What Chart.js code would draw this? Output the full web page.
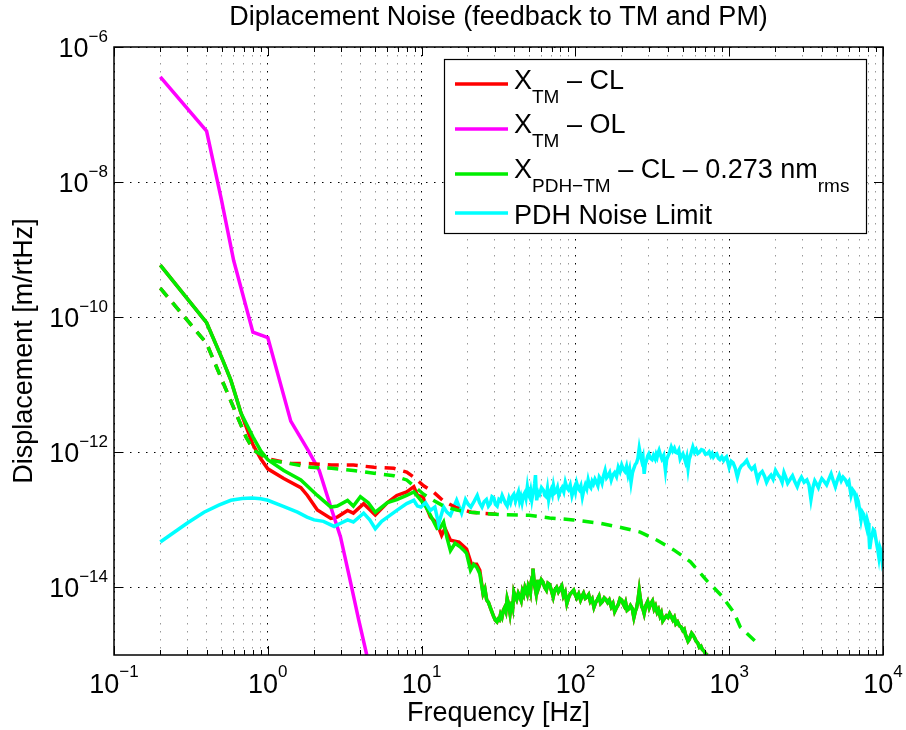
<!DOCTYPE html>
<html>
<head>
<meta charset="utf-8">
<script src="https://cdn.jsdelivr.net/npm/chart.js@4.4.1/dist/chart.umd.min.js"></script>
<style>
  html, body { margin: 0; padding: 0; background: #fff; }
</style>
</head>
<body>
<canvas id="noiseChart" width="906" height="730"></canvas>
<script>
// X_TM - CL (red, solid), below ~25 Hz
const tmClFreq = [0.2, 0.4, 0.51, 0.575, 0.67, 0.8, 0.9, 1.0, 1.27, 1.64, 1.81, 2.1, 2.57, 2.83, 3.3, 3.6, 4.2, 5.0, 6.0, 6.9, 8.0, 8.9, 9.4, 10.2, 10.8, 11.4, 12.6, 13.5, 14.2, 15.4, 17.5, 19.6, 21.1, 22.8, 23.9];
const tmClVal = [5.9e-10, 8.3e-11, 2.3e-11, 1.17e-11, 3.8e-12, 1.3e-12, 8.0e-13, 5.7e-13, 4.1e-13, 3.0e-13, 2.3e-13, 1.4e-13, 1.05e-13, 1.1e-13, 1.38e-13, 1.26e-13, 1.74e-13, 1.18e-13, 1.8e-13, 2.3e-13, 2.6e-13, 3.1e-13, 2.3e-13, 2.2e-13, 1.5e-13, 1.1e-13, 8.9e-14, 5.9e-14, 7.5e-14, 5.0e-14, 4.7e-14, 3.7e-14, 2.2e-14, 2.2e-14, 1.8e-14];

// X_PDH-TM - CL (green, solid), below ~25 Hz
const pdhClFreq = [0.2, 0.4, 0.51, 0.575, 0.67, 0.8, 0.9, 1.0, 1.27, 1.64, 2.1, 2.57, 2.83, 3.3, 3.6, 4.0, 4.5, 5.0, 6.0, 6.9, 8.0, 8.9, 9.9, 10.6, 11.4, 12.6, 13.3, 13.9, 14.6, 15.4, 16.5, 17.8, 18.7, 19.6, 20.8, 21.8, 22.8, 23.9];
const pdhClVal = [5.9e-10, 8.3e-11, 2.3e-11, 1.17e-11, 3.8e-12, 1.7e-12, 1.05e-12, 7.8e-13, 5.4e-13, 3.9e-13, 2.3e-13, 1.55e-13, 1.6e-13, 1.94e-13, 1.6e-13, 2.2e-13, 1.8e-13, 1.3e-13, 1.8e-13, 2.0e-13, 2.3e-13, 2.6e-13, 1.94e-13, 1.6e-13, 1.18e-13, 7.5e-14, 7.8e-14, 9.3e-14, 5.5e-14, 3.5e-14, 4.5e-14, 4.0e-14, 3.6e-14, 3.2e-14, 1.8e-14, 2.2e-14, 2.0e-14, 1.6e-14];

// above ~25 Hz both closed-loop curves lie on top of each other
const clHighFreq = [25.1, 25.8, 26.5, 27.2, 27.9, 28.6, 29.3, 30.1, 30.9, 31.4, 32.0, 32.6, 33.3, 34.0, 34.6, 35.3, 36, 36.8, 37.6, 38.2, 38.7, 39.2, 39.8, 40.6, 41.5, 42.5, 43.6, 44.4, 45.2, 46.1, 47, 47.8, 48.6, 49.4, 50.3, 51.0, 51.6, 52.3, 53, 53.6, 54.2, 54.9, 55.6, 56.3, 57, 57.7, 58.5, 60, 61.5, 63.2, 64.8, 66.3, 68, 69.8, 71.7, 73.5, 75.5, 77.5, 79.4, 81.5, 83.6, 85.8, 88, 90.2, 92.5, 95, 97.5, 99.8, 102, 105, 108, 110.5, 113, 116, 119, 122, 125, 128.5, 132, 135.5, 139, 142.5, 146, 150, 154, 158, 162, 166, 171, 175.5, 180, 185, 190, 195, 200, 204, 208, 212, 217, 222, 228, 234, 240, 245, 250, 255, 260, 265, 270, 275, 280, 287, 295, 302, 310, 317, 325, 332, 340, 347, 355, 362, 370, 380, 390, 400, 410, 420, 430, 440, 450, 462, 475, 487, 500, 510, 520, 530, 540, 550, 560, 570, 580, 595, 610, 625, 640, 655, 670, 685, 700, 710, 720];
const clHighVal = [8.1e-15, 9.5e-15, 6.5e-15, 6.0e-15, 5.1e-15, 4.4e-15, 3.8e-15, 3.3e-15, 3.1e-15, 3.4e-15, 3.3e-15, 4.0e-15, 3.6e-15, 4.6e-15, 5.0e-15, 4.4e-15, 6.8e-15, 5.6e-15, 4.1e-15, 5.4e-15, 6.2e-15, 5.3e-15, 8.5e-15, 7.4e-15, 6.6e-15, 8.2e-15, 7.2e-15, 6.4e-15, 8.8e-15, 7.8e-15, 1.0e-14, 9.0e-15, 8.0e-15, 1.05e-14, 9.5e-15, 8.4e-15, 1.2e-14, 1.4e-14, 1.9e-14, 1.4e-14, 1.1e-14, 9.5e-15, 8.1e-15, 1.05e-14, 1.3e-14, 1.0e-14, 1.1e-14, 1.3e-14, 1.2e-14, 1.0e-14, 9.1e-15, 1.15e-14, 1.1e-14, 9.0e-15, 7.2e-15, 9.2e-15, 1.0e-14, 8.6e-15, 9.5e-15, 1.05e-14, 7.5e-15, 8.5e-15, 5.8e-15, 7.0e-15, 8.0e-15, 8.5e-15, 9.1e-15, 7.8e-15, 7.0e-15, 8.0e-15, 6.5e-15, 7.4e-15, 8.2e-15, 6.9e-15, 7.2e-15, 7.8e-15, 6.2e-15, 6.8e-15, 5.1e-15, 6.0e-15, 6.6e-15, 7.4e-15, 5.8e-15, 6.2e-15, 7.0e-15, 6.6e-15, 6.0e-15, 6.5e-15, 5.2e-15, 5.8e-15, 4.4e-15, 5.0e-15, 5.6e-15, 6.8e-15, 6.5e-15, 5.8e-15, 5.3e-15, 6.0e-15, 4.6e-15, 4.8e-15, 5.4e-15, 4.9e-15, 3.6e-15, 4.4e-15, 5.0e-15, 6.4e-15, 9.1e-15, 6.6e-15, 5.2e-15, 4.8e-15, 4.1e-15, 5.4e-15, 6.2e-15, 5.0e-15, 5.8e-15, 6.3e-15, 4.8e-15, 5.3e-15, 4.3e-15, 4.7e-15, 3.8e-15, 4.2e-15, 3.2e-15, 3.5e-15, 3.8e-15, 3.6e-15, 4.1e-15, 3.7e-15, 3.3e-15, 3.6e-15, 2.9e-15, 3.1e-15, 2.7e-15, 2.6e-15, 2.3e-15, 2.4e-15, 2.0e-15, 1.8e-15, 1.6e-15, 1.7e-15, 1.9e-15, 2.1e-15, 2.0e-15, 1.8e-15, 1.6e-15, 1.5e-15, 1.3e-15, 1.35e-15, 1.2e-15, 1.15e-15, 1.05e-15, 1.03e-15, 1.0e-15];

// X_TM - OL (magenta)
const tmOlFreq = [0.2, 0.4, 0.5, 0.6, 0.8, 1.0, 1.41, 1.83, 2.16, 2.58, 2.97, 3.4, 3.9, 4.4];
const tmOlVal = [3.6e-7, 5.7e-8, 5.4e-9, 6.9e-10, 6.0e-11, 5.0e-11, 2.9e-12, 1.07e-12, 5.4e-13, 1.5e-13, 5.6e-14, 1.4e-14, 3.3e-15, 1.0e-15];

// dashed curves (red: TM, green: PDH-TM); above ~30 Hz the red one is hidden under the green one
const tmDashFreq = [0.2, 0.4, 0.72, 0.81, 1.0, 1.4, 1.9, 2.6, 3.6, 4.9, 6.6, 8.0, 8.9, 10.3, 11.9, 13.9, 17, 21, 25.1, 32.7];
const tmDashVal = [2.7e-10, 4.1e-11, 1.7e-12, 1.07e-12, 8.0e-13, 6.9e-13, 6.8e-13, 6.5e-13, 6.5e-13, 6.0e-13, 5.8e-13, 5.1e-13, 4.3e-13, 3.2e-13, 2.6e-13, 1.9e-13, 1.5e-13, 1.3e-13, 1.25e-13, 1.2e-13];
const pdhDashFreq = [0.2, 0.4, 0.72, 0.81, 1.05, 1.4, 1.9, 2.6, 3.6, 4.9, 6.6, 8.0, 8.9, 10.3, 11.9, 13.9, 16.9, 20.8, 25.1, 32.7, 50, 68, 97, 146, 204, 264, 340, 436, 560, 720, 890, 1070, 1180, 1570];
const pdhDashVal = [2.7e-10, 4.1e-11, 1.7e-12, 1.07e-12, 7.6e-13, 6.8e-13, 6.0e-13, 5.8e-13, 5.4e-13, 4.9e-13, 4.5e-13, 3.9e-13, 3.2e-13, 2.4e-13, 1.95e-13, 1.6e-13, 1.4e-13, 1.3e-13, 1.25e-13, 1.2e-13, 1.17e-13, 1.07e-13, 1.0e-13, 8.9e-14, 7.6e-14, 6.6e-14, 5.0e-14, 3.6e-14, 2.4e-14, 1.24e-14, 7.6e-15, 4.3e-15, 2.6e-15, 1.4e-15];

// PDH noise limit (cyan)
const pdhLimitFreq = [0.2, 0.3, 0.385, 0.48, 0.575, 0.68, 0.79, 0.9, 1.0, 1.25, 1.56, 1.8, 2.0, 2.3, 2.7, 3.0, 3.3, 3.6, 4.2, 4.6, 5.0, 5.5, 6.0, 6.9, 8.0, 8.9, 9.4, 9.9, 10.6, 11.4, 12.2, 12.9, 13.9, 14.6, 15.4, 16.9, 18.2,
  19.3, 20.1, 20.9, 22, 23, 23.8, 24.7, 25.5, 26.4, 27.2, 28, 28.7, 29.5, 30.2, 31, 31.8, 32.6, 33.4, 34.3, 35.1, 36, 37, 37.9, 38.8, 39.8, 40.8, 41.8, 42.6, 43.4, 44.2, 45, 45.9, 46.8, 47.7, 48.7, 49.5, 50.3, 51.2, 52.1, 52.8, 53.5, 54.3, 55, 55.5, 56, 57.2, 58.5, 60.2, 62, 63.2, 64.5, 65.8, 67, 68.2, 69.5, 70.8, 72, 73.5, 75, 76.5, 78, 80, 82, 84, 86, 88, 90, 92.5, 95, 96.8, 98.5, 100,
  102, 104, 106, 108.5, 111, 113.5, 116, 118.5, 121, 123.5, 126, 128.5, 131, 134, 137, 140, 143, 146, 149, 152, 156, 159.5, 163, 167, 171, 175, 180, 185, 190, 195, 200, 205, 210, 215, 220, 225, 230, 235, 240, 245, 250, 255, 260, 265, 270, 275, 280, 285, 290, 295, 300, 307, 315, 322, 330, 335, 340, 345, 350, 357, 365, 375, 385, 392, 400, 410, 420, 430, 440, 450, 460, 470, 480, 490, 500, 510, 520, 530, 540, 550, 560, 570, 580, 595, 610, 625, 640, 660, 680, 700, 720, 740, 760, 775, 790, 810, 830, 850, 870, 895, 920, 940, 960, 980,
  1000, 1030, 1060, 1095, 1130, 1165, 1200, 1250, 1300, 1350, 1400, 1460, 1530, 1580, 1640, 1700, 1750, 1810, 1870, 1930, 2000, 2080, 2150, 2210, 2270, 2330, 2400, 2490, 2580, 2670, 2770, 2860, 2950, 3070, 3200, 3300, 3400, 3500, 3600, 3700, 3800, 3900, 4000, 4150, 4300, 4450, 4600, 4750, 4900, 5050, 5200, 5350, 5500, 5700, 5850, 6000, 6200, 6350, 6500, 6600, 6700, 6800, 6900, 7050, 7200, 7350, 7500, 7650, 7800, 7900, 8000, 8100, 8200, 8350, 8500, 8650, 8800, 8950, 9100, 9250, 9400, 9550, 9700, 9850, 10000];
const pdhLimitVal = [4.7e-14, 9.0e-14, 1.3e-13, 1.65e-13, 1.95e-13, 2.08e-13, 2.1e-13, 2.05e-13, 1.95e-13, 1.6e-13, 1.3e-13, 1.1e-13, 1.0e-13, 9.5e-14, 8.0e-14, 9.0e-14, 1.0e-13, 9.3e-14, 1.26e-13, 1.0e-13, 7.4e-14, 9.5e-14, 1.1e-13, 1.38e-13, 1.74e-13, 1.95e-13, 1.6e-13, 1.55e-13, 1.8e-13, 1.38e-13, 1.55e-13, 8.7e-14, 1.55e-13, 1.3e-13, 1.17e-13, 1.95e-13, 1.26e-13,
  2.0e-13, 1.7e-13, 1.55e-13, 1.9e-13, 2.3e-13, 1.8e-13, 1.55e-13, 1.85e-13, 2.0e-13, 1.6e-13, 1.75e-13, 2.2e-13, 2.1e-13, 1.7e-13, 1.6e-13, 2.0e-13, 1.9e-13, 2.3e-13, 2.0e-13, 1.75e-13, 1.6e-13, 2.1e-13, 1.8e-13, 2.2e-13, 2.4e-13, 1.9e-13, 2.3e-13, 2.6e-13, 1.9e-13, 2.2e-13, 1.8e-13, 2.3e-13, 2.5e-13, 2.1e-13, 3.1e-13, 2.4e-13, 2.2e-13, 2.7e-13, 2.0e-13, 2.4e-13, 2.6e-13, 3.4e-13, 4.6e-13, 3.0e-13, 1.95e-13, 2.6e-13, 2.4e-13, 3.0e-13, 2.75e-13, 2.3e-13, 2.2e-13, 2.9e-13, 2.0e-13, 2.5e-13, 2.8e-13, 2.4e-13, 3.2e-13, 2.5e-13, 2.6e-13, 3.0e-13, 2.3e-13, 2.7e-13, 3.0e-13, 2.6e-13, 3.6e-13, 3.0e-13, 2.8e-13, 3.3e-13, 2.3e-13, 2.7e-13, 3.0e-13, 2.6e-13,
  3.5e-13, 3.0e-13, 2.8e-13, 3.2e-13, 2.2e-13, 2.8e-13, 3.3e-13, 2.9e-13, 3.9e-13, 3.2e-13, 3.0e-13, 3.7e-13, 3.4e-13, 4.0e-13, 3.6e-13, 3.2e-13, 4.3e-13, 4.0e-13, 3.5e-13, 4.4e-13, 5.4e-13, 4.2e-13, 4.5e-13, 5.0e-13, 3.9e-13, 4.6e-13, 5.0e-13, 4.4e-13, 6.0e-13, 5.2e-13, 6.5e-13, 5.6e-13, 5.2e-13, 6.2e-13, 4.6e-13, 5.6e-13, 3.6e-13, 5.0e-13, 5.8e-13, 6.6e-13, 7.0e-13, 8.2e-13, 1.15e-12, 9.0e-13, 7.5e-13, 8.6e-13, 4.8e-13, 6.8e-13, 7.5e-13, 8.8e-13, 9.5e-13, 8.2e-13, 7.8e-13, 9.0e-13, 8.0e-13, 9.3e-13, 8.5e-13, 9.8e-13, 1.07e-12, 9.2e-13, 8.0e-13, 9.0e-13, 5.4e-13, 7.8e-13, 8.8e-13, 1.0e-12, 1.2e-12, 1.05e-12, 1.15e-12, 1.0e-12, 9.8e-13, 1.08e-12, 8.0e-13, 8.8e-13, 9.5e-13, 8.4e-13, 7.2e-13, 8.5e-13, 5.8e-13, 8.0e-13, 9.0e-13, 1.05e-12, 1.2e-12, 1.0e-12, 1.1e-12, 9.6e-13, 1.0e-12, 1.1e-12, 1.07e-12, 9.4e-13, 9.5e-13, 1.02e-12, 8.8e-13, 9.6e-13, 8.5e-13, 9.2e-13, 9.5e-13, 8.2e-13, 7.8e-13, 8.6e-13, 7.6e-13, 8.2e-13, 8.6e-13, 7.2e-13,
  6.0e-13, 7.4e-13, 7.0e-13, 5.8e-13, 4.3e-13, 5.6e-13, 6.3e-13, 6.8e-13, 7.6e-13, 6.2e-13, 5.6e-13, 6.2e-13, 3.9e-13, 4.8e-13, 5.2e-13, 4.4e-13, 3.6e-13, 4.2e-13, 4.6e-13, 4.0e-13, 5.4e-13, 4.6e-13, 4.2e-13, 3.6e-13, 5.0e-13, 4.3e-13, 3.5e-13, 4.0e-13, 4.5e-13, 3.7e-13, 3.1e-13, 3.8e-13, 4.3e-13, 3.6e-13, 3.9e-13, 3.3e-13, 2.0e-13, 3.0e-13, 3.8e-13, 3.4e-13, 3.0e-13, 3.6e-13, 4.1e-13, 3.7e-13, 3.3e-13, 4.0e-13, 4.8e-13, 3.8e-13, 3.1e-13, 3.9e-13, 4.6e-13, 3.8e-13, 4.3e-13, 3.9e-13, 3.4e-13, 3.7e-13, 2.3e-13, 2.8e-13, 2.6e-13, 2.2e-13, 1.8e-13, 2.1e-13, 1.9e-13, 1.4e-13, 1.0e-13, 1.3e-13, 1.2e-13, 9.5e-14, 7.9e-14, 1.0e-13, 9.0e-14, 6.0e-14, 3.7e-14, 5.0e-14, 6.0e-14, 7.2e-14, 6.9e-14, 5.5e-14, 4.4e-14, 3.6e-14, 2.8e-14, 3.9e-14, 3.5e-14, 2.6e-14, 3.2e-14];

// axis ticks
const xTickVals = [0.1, 0.2, 0.3, 0.4, 0.5, 0.6, 0.7, 0.8, 0.9,
  1, 2, 3, 4, 5, 6, 7, 8, 9,
  10, 20, 30, 40, 50, 60, 70, 80, 90,
  100, 200, 300, 400, 500, 600, 700, 800, 900,
  1000, 2000, 3000, 4000, 5000, 6000, 7000, 8000, 9000, 10000];
const xTickExps = ['\u22121', '0', '1', '2', '3', '4'];
const yTickVals = [1e-14, 1e-12, 1e-10, 1e-8, 1e-6];
const yTickExps = ['\u221214', '\u221212', '\u221210', '\u22128', '\u22126'];

const legendRows = [
  { color: '#ff0000', parts: [['X', 0], ['TM', 1], [' \u2013 CL', 0]] },
  { color: '#ff00ff', parts: [['X', 0], ['TM', 1], [' \u2013 OL', 0]] },
  { color: '#00ee00', parts: [['X', 0], ['PDH\u2212TM', 1], [' \u2013 CL \u2013 0.273 nm', 0], ['rms', 1]] },
  { color: '#00ffff', parts: [['PDH Noise Limit', 0]] }
];

const FONT = '"Liberation Sans", Arial, Helvetica, sans-serif';

function toPoints(xs, ys) {
  return xs.map((x, i) => ({ x: x, y: ys[i] }));
}

function isDecade(v) {
  const l = Math.log10(v);
  return Math.abs(l - Math.round(l)) < 1e-6;
}

const matlabAxes = {
  id: 'matlabAxes',
  afterDatasetsDraw(chart) {
    const ctx = chart.ctx;
    const a = chart.chartArea;
    const xs = chart.scales.x;
    const ys = chart.scales.y;
    ctx.save();
    ctx.strokeStyle = '#000';
    ctx.lineWidth = 1;
    ctx.beginPath();
    xTickVals.forEach(v => {
      const px = Math.round(xs.getPixelForValue(v)) + 0.5;
      const len = isDecade(v) ? 9 : 5;
      ctx.moveTo(px, a.bottom); ctx.lineTo(px, a.bottom - len);
      ctx.moveTo(px, a.top); ctx.lineTo(px, a.top + len);
    });
    yTickVals.forEach(v => {
      const py = Math.round(ys.getPixelForValue(v)) + 0.5;
      ctx.moveTo(a.left, py); ctx.lineTo(a.left + 9, py);
      ctx.moveTo(a.right, py); ctx.lineTo(a.right - 9, py);
    });
    ctx.stroke();
    ctx.lineWidth = 1.5;
    ctx.strokeRect(a.left, a.top, a.right - a.left, a.bottom - a.top);
    ctx.restore();
  },
  afterDraw(chart) {
    const ctx = chart.ctx;
    const a = chart.chartArea;
    const xs = chart.scales.x;
    const ys = chart.scales.y;
    ctx.save();
    ctx.fillStyle = '#000';
    ctx.textBaseline = 'alphabetic';
    ctx.textAlign = 'left';

    // tick labels 10^n
    const baseFont = '27px ' + FONT;
    const expFont = '17px ' + FONT;
    const xDecades = xTickVals.filter(isDecade);
    xDecades.forEach((v, i) => {
      const px = xs.getPixelForValue(v);
      ctx.font = baseFont; const wb = ctx.measureText('10').width;
      ctx.font = expFont; const we = ctx.measureText(xTickExps[i]).width;
      const x0 = px - (wb + we) / 2;
      ctx.font = baseFont; ctx.fillText('10', x0, 693);
      ctx.font = expFont; ctx.fillText(xTickExps[i], x0 + wb, 677);
    });
    yTickVals.forEach((v, i) => {
      const py = ys.getPixelForValue(v);
      ctx.font = baseFont; const wb = ctx.measureText('10').width;
      ctx.font = expFont; const we = ctx.measureText(yTickExps[i]).width;
      const x1 = a.left - 6;
      ctx.font = expFont; ctx.fillText(yTickExps[i], x1 - we, py - 5);
      ctx.font = baseFont; ctx.fillText('10', x1 - we - wb, py + 10);
    });

    // title and axis titles
    ctx.font = '27px ' + FONT;
    ctx.textAlign = 'center';
    ctx.fillText('Diplacement Noise (feedback to TM and PM)', (a.left + a.right) / 2, 25);
    ctx.fillText('Frequency [Hz]', (a.left + a.right) / 2, 721);
    ctx.save();
    ctx.translate(32, (a.top + a.bottom) / 2);
    ctx.rotate(-Math.PI / 2);
    ctx.fillText('Displacement [m/rtHz]', 0, 0);
    ctx.restore();

    // legend
    const lineY = [84, 129, 174, 213];
    const baseY = [89, 133, 178, 224];
    ctx.fillStyle = '#fff';
    ctx.fillRect(444, 59, 422, 174);
    ctx.strokeStyle = '#000';
    ctx.lineWidth = 1.2;
    ctx.strokeRect(444.5, 59.5, 422, 174);
    ctx.textAlign = 'left';
    legendRows.forEach((row, r) => {
      ctx.strokeStyle = row.color;
      ctx.lineWidth = 3.5;
      ctx.beginPath();
      ctx.moveTo(455, lineY[r]);
      ctx.lineTo(508, lineY[r]);
      ctx.stroke();
      ctx.fillStyle = '#000';
      let x = 514;
      row.parts.forEach(p => {
        ctx.font = (p[1] ? '19px ' : '27px ') + FONT;
        ctx.fillText(p[0], x, p[1] ? baseY[r] + 14 : baseY[r]);
        x += ctx.measureText(p[0]).width;
      });
    });
    ctx.restore();
  }
};

const lineStyle = { pointRadius: 0, borderWidth: 3.5, tension: 0, fill: false, clip: 0 };

new Chart(document.getElementById('noiseChart').getContext('2d'), {
  type: 'line',
  data: {
    datasets: [
      Object.assign({ label: 'X_PDH-TM - CL (model)', data: toPoints(pdhDashFreq, pdhDashVal), borderColor: '#00ee00', borderDash: [11, 8], order: 1 }, lineStyle),
      Object.assign({ label: 'X_TM - CL (model)', data: toPoints(tmDashFreq, tmDashVal), borderColor: '#ff0000', borderDash: [11, 8], order: 2 }, lineStyle),
      Object.assign({ label: 'PDH Noise Limit', data: toPoints(pdhLimitFreq, pdhLimitVal), borderColor: '#00ffff', order: 3 }, lineStyle),
      Object.assign({ label: 'X_PDH-TM - CL', data: toPoints(pdhClFreq.concat(clHighFreq), pdhClVal.concat(clHighVal)), borderColor: '#00ee00', order: 4 }, lineStyle),
      Object.assign({ label: 'X_TM - OL', data: toPoints(tmOlFreq, tmOlVal), borderColor: '#ff00ff', order: 5 }, lineStyle),
      Object.assign({ label: 'X_TM - CL', data: toPoints(tmClFreq.concat(clHighFreq), tmClVal.concat(clHighVal)), borderColor: '#ff0000', order: 6 }, lineStyle)
    ]
  },
  options: {
    responsive: false,
    animation: false,
    layout: { padding: { left: 114, right: 23, top: 47, bottom: 75 } },
    plugins: {
      legend: { display: false },
      tooltip: { enabled: false },
      title: { display: false }
    },
    scales: {
      x: {
        type: 'logarithmic',
        min: 0.1,
        max: 10000,
        afterBuildTicks: scale => { scale.ticks = xTickVals.map(v => ({ value: v })); },
        afterFit: scale => { scale.height = 0; },
        ticks: { display: false },
        border: { display: false, dash: [1.5, 6.5] },
        grid: {
          drawTicks: false,
          lineWidth: 1,
          color: c => (c.tick && isDecade(c.tick.value)) ? '#000' : '#999'
        }
      },
      y: {
        type: 'logarithmic',
        min: 1e-15,
        max: 1e-6,
        afterBuildTicks: scale => { scale.ticks = yTickVals.map(v => ({ value: v })); },
        afterFit: scale => { scale.width = 0; },
        ticks: { display: false },
        border: { display: false, dash: [1.5, 6.5] },
        grid: { drawTicks: false, lineWidth: 1, color: '#000' }
      }
    }
  },
  plugins: [matlabAxes]
});
</script>
</body>
</html>
